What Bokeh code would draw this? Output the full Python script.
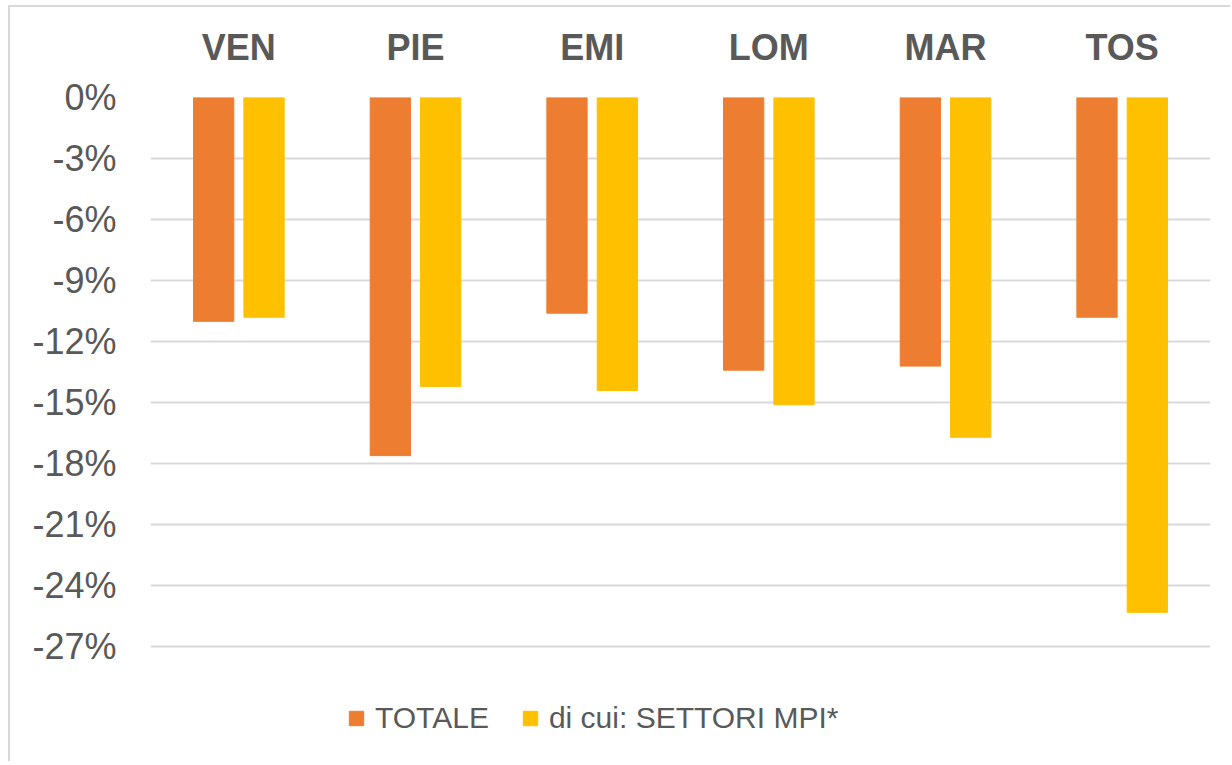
from bokeh.plotting import figure
from bokeh.models import Range1d, FixedTicker, PrintfTickFormatter, ColumnDataSource
from bokeh.transform import dodge
from bokeh.embed import file_html
from bokeh.resources import INLINE

regions = ["VEN", "PIE", "EMI", "LOM", "MAR", "TOS"]
totale = [-11.0, -17.6, -10.6, -13.4, -13.2, -10.8]
settori_mpi = [-10.8, -14.2, -14.4, -15.1, -16.7, -25.3]
y_ticks = [0, -3, -6, -9, -12, -15, -18, -21, -24, -27]
series_names = ["TOTALE", "di cui: SETTORI MPI*"]

source = ColumnDataSource(dict(region=regions, totale=totale, mpi=settori_mpi))

W, H = 1222, 756
p = figure(x_range=regions, y_range=Range1d(-32.73, 0), width=W, height=H,
           x_axis_location="above", output_backend="svg", toolbar_location=None,
           min_border_left=140, min_border_right=22, min_border_top=90, min_border_bottom=0)
p.styles = {"border-left": "2px solid #d9d9d9", "border-top": "2px solid #d9d9d9",
            "margin-left": "8px", "margin-top": "5px"}
p.outline_line_color = None
p.background_fill_color = "white"
p.border_fill_color = "white"

p.vbar(x=dodge("region", -0.1425, range=p.x_range), top=0, bottom="totale", width=0.228,
       source=source, fill_color="#ED7D31", line_color="#ED7D31", legend_label=series_names[0])
p.vbar(x=dodge("region", 0.1425, range=p.x_range), top=0, bottom="mpi", width=0.228,
       source=source, fill_color="#FFC000", line_color="#FFC000", legend_label=series_names[1])

# y axis
p.yaxis.ticker = FixedTicker(ticks=y_ticks)
p.yaxis.formatter = PrintfTickFormatter(format="%d%%")
p.yaxis.axis_line_color = None
p.yaxis.major_tick_line_color = None
p.yaxis.minor_tick_line_color = None
p.yaxis.major_label_text_font = "Liberation Sans"
p.yaxis.major_label_text_font_size = "36px"
p.yaxis.major_label_text_color = "#595959"
p.yaxis.major_label_standoff = 28

p.ygrid.ticker = FixedTicker(ticks=y_ticks)
p.ygrid.grid_line_color = "#d9d9d9"
p.ygrid.grid_line_width = 2
p.xgrid.grid_line_color = None

# x axis (above)
p.xaxis.axis_line_color = None
p.xaxis.major_tick_line_color = None
p.xaxis.minor_tick_line_color = None
p.xaxis.major_label_text_font = "Liberation Sans"
p.xaxis.major_label_text_font_style = "bold"
p.xaxis.major_label_text_font_size = "36px"
p.xaxis.major_label_text_color = "#595959"
p.xaxis.major_label_standoff = 24

# legend
lg = p.legend[0]
lg.orientation = "horizontal"
lg.location = (197, 28)
lg.border_line_color = None
lg.background_fill_alpha = 0
lg.label_text_font = "Liberation Sans"
lg.label_text_font_size = "30px"
lg.label_text_color = "#595959"
lg.glyph_width = 18
lg.glyph_height = 18
lg.label_standoff = 10
lg.spacing = 32
lg.padding = 0
lg.margin = 0

open("out.html", "w").write(file_html(p, INLINE))
